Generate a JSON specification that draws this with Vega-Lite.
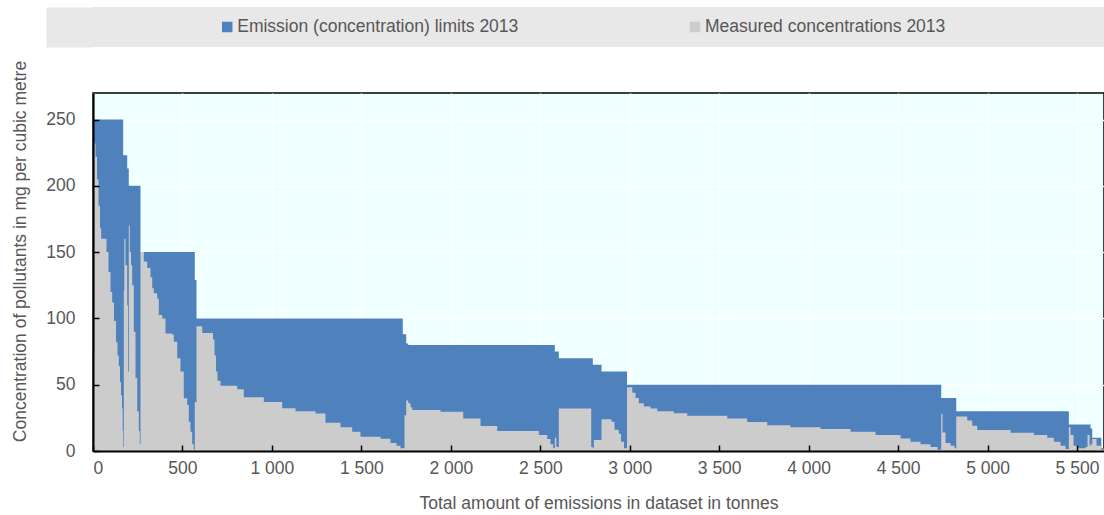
{
  "$schema": "https://vega.github.io/schema/vega-lite/v6.json",
  "padding": {"left": 10, "top": 7, "right": 0, "bottom": 0},
  "background": "white",
  "bounds": "flush",
  "spacing": 46,
  "config": {
    "font": "Liberation Sans, Arial, sans-serif",
    "locale": {"number": {"decimal": ".", "thousands": " ", "grouping": [3], "currency": ["", ""]}},
    "axis": {
      "labelFontSize": 17.5,
      "labelColor": "#575757",
      "titleFontSize": 17.5,
      "titleFontWeight": "normal",
      "titleColor": "#575757",
      "domainColor": "#000000",
      "domainWidth": 2,
      "tickColor": "#000000",
      "tickWidth": 1.5,
      "gridColor": "#FFFFFF",
      "gridWidth": 1.5,
      "gridOpacity": 1
    }
  },
  "vconcat": [
    {
      "width": 1011,
      "height": 40,
      "view": {"fill": "#E8E8E8", "stroke": null},
      "data": {
        "values": [
          {"series": "Emission (concentration) limits 2013"},
          {"series": "Measured concentrations 2013"}
        ]
      },
      "encoding": {
        "x": {
          "field": "series",
          "type": "nominal",
          "axis": null,
          "scale": {"type": "point", "padding": 0.5806, "align": 0.2471}
        },
        "y": {
          "datum": 1,
          "type": "quantitative",
          "scale": {"domain": [0, 2]},
          "axis": {
            "title": null,
            "labels": false,
            "ticks": false,
            "grid": false,
            "domain": true,
            "domainColor": "#E8E8E8",
            "domainWidth": 47,
            "domainCap": "butt",
            "offset": 23.5
          }
        }
      },
      "layer": [
        {
          "mark": {"type": "point", "shape": "square", "filled": true, "size": 110, "opacity": 1},
          "encoding": {
            "color": {
              "field": "series",
              "type": "nominal",
              "legend": null,
              "scale": {
                "domain": ["Emission (concentration) limits 2013", "Measured concentrations 2013"],
                "range": ["#4F81BD", "#CCCCCC"]
              }
            }
          }
        },
        {
          "mark": {"type": "text", "align": "left", "baseline": "middle", "dx": 10, "fontSize": 17.5, "color": "#575757"},
          "encoding": {"text": {"field": "series", "type": "nominal"}}
        }
      ]
    },
    {
      "width": 1011,
      "height": 358,
      "view": {"fill": "#F0FFFF", "stroke": "#000000", "strokeWidth": 1.5},
      "data": {
        "values": [
          {"tonnes": 0, "limit": 300, "measured": 70},
          {"tonnes": 7.3, "limit": 250, "measured": 232},
          {"tonnes": 14, "limit": 250, "measured": 222},
          {"tonnes": 22.4, "limit": 250, "measured": 205},
          {"tonnes": 30.7, "limit": 250, "measured": 185},
          {"tonnes": 39.1, "limit": 250, "measured": 168},
          {"tonnes": 45.8, "limit": 250, "measured": 160},
          {"tonnes": 75.5, "limit": 250, "measured": 150},
          {"tonnes": 86.6, "limit": 250, "measured": 135},
          {"tonnes": 97.8, "limit": 250, "measured": 120},
          {"tonnes": 107.3, "limit": 250, "measured": 112},
          {"tonnes": 117.4, "limit": 250, "measured": 98},
          {"tonnes": 128.6, "limit": 250, "measured": 82},
          {"tonnes": 137, "limit": 250, "measured": 72},
          {"tonnes": 144.2, "limit": 250, "measured": 64},
          {"tonnes": 150.9, "limit": 250, "measured": 52},
          {"tonnes": 156.5, "limit": 250, "measured": 42},
          {"tonnes": 162.1, "limit": 250, "measured": 32},
          {"tonnes": 166, "limit": 250, "measured": 15},
          {"tonnes": 168.8, "limit": 223, "measured": 3},
          {"tonnes": 172.2, "limit": 223, "measured": 121},
          {"tonnes": 175, "limit": 223, "measured": 160},
          {"tonnes": 181.7, "limit": 223, "measured": 140},
          {"tonnes": 191.2, "limit": 213, "measured": 110},
          {"tonnes": 195.6, "limit": 213, "measured": 60},
          {"tonnes": 200.1, "limit": 200, "measured": 170},
          {"tonnes": 205.7, "limit": 200, "measured": 150},
          {"tonnes": 212.4, "limit": 200, "measured": 140},
          {"tonnes": 219.1, "limit": 200, "measured": 125},
          {"tonnes": 228.1, "limit": 200, "measured": 90},
          {"tonnes": 237.6, "limit": 200, "measured": 55},
          {"tonnes": 247.1, "limit": 200, "measured": 30},
          {"tonnes": 256.1, "limit": 200, "measured": 15},
          {"tonnes": 261.6, "limit": 200, "measured": 5},
          {"tonnes": 265.5, "limit": 150, "measured": 150},
          {"tonnes": 284, "limit": 150, "measured": 143},
          {"tonnes": 303, "limit": 150, "measured": 138},
          {"tonnes": 321.4, "limit": 150, "measured": 131},
          {"tonnes": 330.9, "limit": 150, "measured": 122.7},
          {"tonnes": 339.9, "limit": 150, "measured": 119},
          {"tonnes": 358.9, "limit": 150, "measured": 115},
          {"tonnes": 367.8, "limit": 150, "measured": 102.6},
          {"tonnes": 386.8, "limit": 150, "measured": 100},
          {"tonnes": 405.3, "limit": 150, "measured": 88.7},
          {"tonnes": 442.7, "limit": 150, "measured": 87.6},
          {"tonnes": 451.7, "limit": 150, "measured": 82.4},
          {"tonnes": 470.7, "limit": 150, "measured": 70},
          {"tonnes": 489.1, "limit": 150, "measured": 60},
          {"tonnes": 507.5, "limit": 150, "measured": 39.7},
          {"tonnes": 526.6, "limit": 150, "measured": 34.7},
          {"tonnes": 535.5, "limit": 150, "measured": 22},
          {"tonnes": 545, "limit": 150, "measured": 14.6},
          {"tonnes": 554.5, "limit": 150, "measured": 5},
          {"tonnes": 563.4, "limit": 150, "measured": 1},
          {"tonnes": 569, "limit": 129, "measured": 37},
          {"tonnes": 578.5, "limit": 100, "measured": 94},
          {"tonnes": 610.4, "limit": 100, "measured": 89},
          {"tonnes": 670.8, "limit": 100, "measured": 84},
          {"tonnes": 679.2, "limit": 100, "measured": 72},
          {"tonnes": 687.5, "limit": 100, "measured": 60},
          {"tonnes": 695.9, "limit": 100, "measured": 53},
          {"tonnes": 712.7, "limit": 100, "measured": 49.3},
          {"tonnes": 806, "limit": 100, "measured": 46.5},
          {"tonnes": 842.9, "limit": 100, "measured": 40.5},
          {"tonnes": 954.7, "limit": 100, "measured": 37},
          {"tonnes": 1057.6, "limit": 100, "measured": 32.2},
          {"tonnes": 1131.9, "limit": 100, "measured": 30},
          {"tonnes": 1243.7, "limit": 100, "measured": 28.3},
          {"tonnes": 1299.6, "limit": 100, "measured": 21.4},
          {"tonnes": 1383.4, "limit": 100, "measured": 17.9},
          {"tonnes": 1448.8, "limit": 100, "measured": 14.6},
          {"tonnes": 1495.3, "limit": 100, "measured": 10.8},
          {"tonnes": 1607.1, "limit": 100, "measured": 9.3},
          {"tonnes": 1663, "limit": 100, "measured": 6},
          {"tonnes": 1696.5, "limit": 100, "measured": 4},
          {"tonnes": 1718.9, "limit": 100, "measured": 2},
          {"tonnes": 1731.7, "limit": 88, "measured": 2},
          {"tonnes": 1741.2, "limit": 88, "measured": 27},
          {"tonnes": 1750.7, "limit": 81, "measured": 38},
          {"tonnes": 1761.9, "limit": 80, "measured": 36},
          {"tonnes": 1774.7, "limit": 80, "measured": 33},
          {"tonnes": 1784.2, "limit": 80, "measured": 31},
          {"tonnes": 1942.4, "limit": 80, "measured": 29.6},
          {"tonnes": 2069.3, "limit": 80, "measured": 24.6},
          {"tonnes": 2166, "limit": 80, "measured": 18.9},
          {"tonnes": 2259.4, "limit": 80, "measured": 15},
          {"tonnes": 2491.9, "limit": 80, "measured": 12},
          {"tonnes": 2538.9, "limit": 80, "measured": 9},
          {"tonnes": 2557.3, "limit": 80, "measured": 5},
          {"tonnes": 2572.4, "limit": 80, "measured": 2},
          {"tonnes": 2581.3, "limit": 75, "measured": 10},
          {"tonnes": 2589.7, "limit": 75, "measured": 3},
          {"tonnes": 2603.7, "limit": 70, "measured": 32},
          {"tonnes": 2784.8, "limit": 70, "measured": 3},
          {"tonnes": 2793.8, "limit": 65, "measured": 2},
          {"tonnes": 2799.4, "limit": 65, "measured": 8.3},
          {"tonnes": 2842.4, "limit": 60, "measured": 24},
          {"tonnes": 2898.3, "limit": 60, "measured": 22},
          {"tonnes": 2915, "limit": 60, "measured": 16},
          {"tonnes": 2939.1, "limit": 60, "measured": 13},
          {"tonnes": 2951.4, "limit": 60, "measured": 7},
          {"tonnes": 2968.1, "limit": 60, "measured": 2},
          {"tonnes": 2984.9, "limit": 50, "measured": 48},
          {"tonnes": 3014, "limit": 50, "measured": 44},
          {"tonnes": 3032.4, "limit": 50, "measured": 40},
          {"tonnes": 3050.9, "limit": 50, "measured": 36},
          {"tonnes": 3078.8, "limit": 50, "measured": 33.5},
          {"tonnes": 3116.3, "limit": 50, "measured": 32},
          {"tonnes": 3153.7, "limit": 50, "measured": 30},
          {"tonnes": 3246.5, "limit": 50, "measured": 28.4},
          {"tonnes": 3321.4, "limit": 50, "measured": 26.6},
          {"tonnes": 3545, "limit": 50, "measured": 24.6},
          {"tonnes": 3656.8, "limit": 50, "measured": 21.9},
          {"tonnes": 3768.6, "limit": 50, "measured": 19.4},
          {"tonnes": 3898.8, "limit": 50, "measured": 18},
          {"tonnes": 4066.5, "limit": 50, "measured": 16.5},
          {"tonnes": 4234.2, "limit": 50, "measured": 14.5},
          {"tonnes": 4374, "limit": 50, "measured": 12},
          {"tonnes": 4513.7, "limit": 50, "measured": 9.5},
          {"tonnes": 4569.6, "limit": 50, "measured": 7},
          {"tonnes": 4625.5, "limit": 50, "measured": 5},
          {"tonnes": 4681.4, "limit": 50, "measured": 3},
          {"tonnes": 4720.5, "limit": 50, "measured": 1},
          {"tonnes": 4741.2, "limit": 40, "measured": 28},
          {"tonnes": 4748.5, "limit": 40, "measured": 14},
          {"tonnes": 4765.2, "limit": 40, "measured": 6},
          {"tonnes": 4793.2, "limit": 40, "measured": 4},
          {"tonnes": 4815.6, "limit": 40, "measured": 2},
          {"tonnes": 4825.1, "limit": 30, "measured": 26},
          {"tonnes": 4886.5, "limit": 30, "measured": 23},
          {"tonnes": 4914.5, "limit": 30, "measured": 19},
          {"tonnes": 4942.4, "limit": 30, "measured": 15.8},
          {"tonnes": 5128.5, "limit": 30, "measured": 13.7},
          {"tonnes": 5258.8, "limit": 30, "measured": 12},
          {"tonnes": 5333.7, "limit": 30, "measured": 10},
          {"tonnes": 5370.6, "limit": 30, "measured": 7},
          {"tonnes": 5408.1, "limit": 30, "measured": 4},
          {"tonnes": 5436, "limit": 30, "measured": 1.5},
          {"tonnes": 5454.5, "limit": 20, "measured": 18},
          {"tonnes": 5464, "limit": 20, "measured": 12},
          {"tonnes": 5480.7, "limit": 20, "measured": 4},
          {"tonnes": 5503.1, "limit": 20, "measured": 2},
          {"tonnes": 5547.8, "limit": 20, "measured": 3},
          {"tonnes": 5559, "limit": 20, "measured": 12},
          {"tonnes": 5570.2, "limit": 20, "measured": 4},
          {"tonnes": 5575.8, "limit": 17, "measured": 5},
          {"tonnes": 5585.3, "limit": 10, "measured": 9},
          {"tonnes": 5609.3, "limit": 10, "measured": 4},
          {"tonnes": 5635.6, "limit": 2, "measured": 1},
          {"tonnes": 5651, "limit": 2, "measured": 1}
        ]
      },
      "resolve": {"axis": {"x": "independent", "y": "independent"}},
      "layer": [
        {
          "mark": {"type": "area", "interpolate": "step-after", "color": "#4F81BD", "clip": true},
          "encoding": {
            "x": {
              "field": "tonnes",
              "type": "quantitative",
              "scale": {"domain": [0, 5651], "nice": false},
              "axis": {
                "orient": "bottom",
                "values": [0, 500, 1000, 1500, 2000, 2500, 3000, 3500, 4000, 4500, 5000, 5500],
                "grid": true,
                "labels": false,
                "ticks": false,
                "domain": false,
                "title": null,
                "minExtent": 0,
                "maxExtent": 0,
                "zindex": 0
              }
            },
            "y": {
              "field": "limit",
              "type": "quantitative",
              "scale": {"domain": [0, 270], "nice": false},
              "axis": {
                "orient": "left",
                "values": [0, 50, 100, 150, 200, 250],
                "grid": true,
                "labels": false,
                "ticks": false,
                "domain": false,
                "title": null,
                "minExtent": 0,
                "maxExtent": 0,
                "zindex": 0
              }
            }
          }
        },
        {
          "mark": {"type": "area", "interpolate": "step-after", "color": "#CCCCCC", "clip": true},
          "encoding": {
            "x": {
              "field": "tonnes",
              "type": "quantitative",
              "axis": {
                "orient": "bottom",
                "values": [0, 500, 1000, 1500, 2000, 2500, 3000, 3500, 4000, 4500, 5000, 5500],
                "format": ",.0f",
                "grid": false,
                "ticks": true,
                "tickSize": -6,
                "labelPadding": 14,
                "zindex": 1,
                "title": "Total amount of emissions in dataset in tonnes",
                "titlePadding": 18
              }
            },
            "y": {
              "field": "measured",
              "type": "quantitative",
              "axis": {
                "orient": "left",
                "values": [0, 50, 100, 150, 200, 250],
                "grid": false,
                "ticks": true,
                "tickSize": -6,
                "labelPadding": 24,
                "zindex": 1,
                "title": "Concentration of pollutants in mg per cubic metre",
                "titleX": -64,
                "titleY": 158
              }
            }
          }
        }
      ]
    }
  ]
}
